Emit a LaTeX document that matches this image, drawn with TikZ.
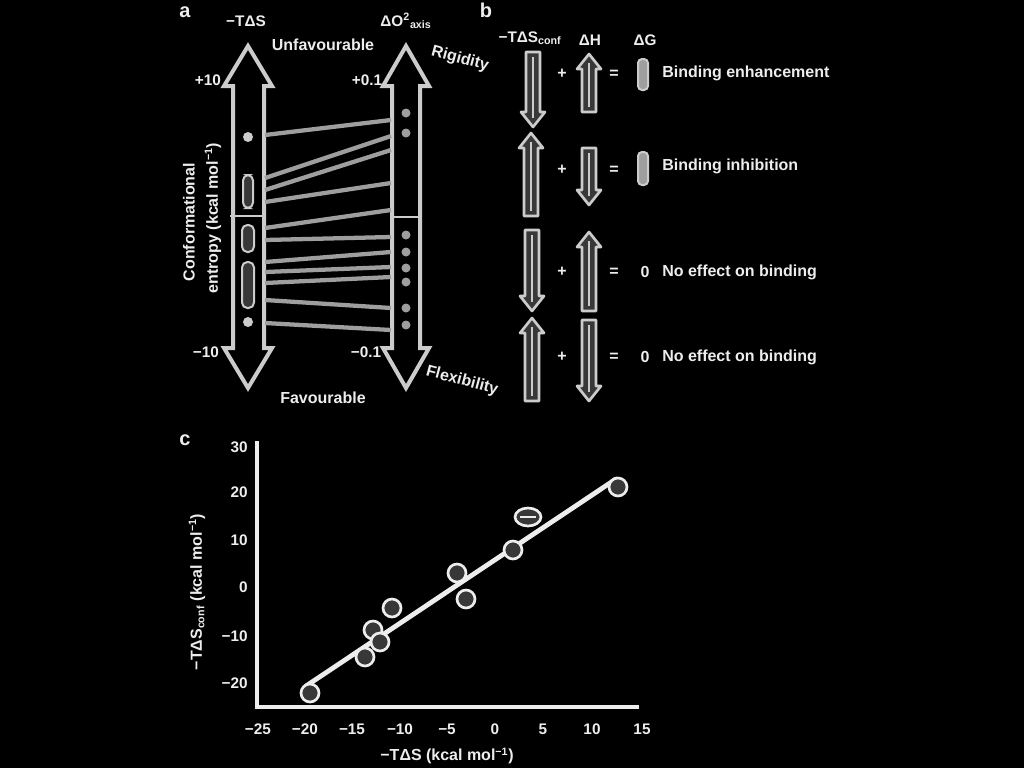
\documentclass[tikz,border=0pt]{standalone}
\usepackage{fontspec}
\setmainfont{Liberation Sans}
\definecolor{fg}{gray}{0.93}
\definecolor{lk}{gray}{0.62}
\definecolor{ol}{gray}{0.80}
\definecolor{inn}{gray}{0.22}
\newcommand\colarrow[3]{%
  \draw[colar] ({#1},{#2}) -- ({#1+12},{#2+15*sign(#3-#2)}) -- ({#1+7},{#2+15*sign(#3-#2)})
     -- ({#1+7},{#3}) -- ({#1-7},{#3}) -- ({#1-7},{#2+15*sign(#3-#2)})
     -- ({#1-12},{#2+15*sign(#3-#2)}) -- cycle;
  \draw[inline] ({#1},{#2+9*sign(#3-#2)}) -- ({#1},{#3-5*sign(#3-#2)});}
\begin{document}
\begin{tikzpicture}[x=0.75pt,y=-0.75pt,
  lab/.style={text=fg,inner sep=0pt,font=\bfseries\fontsize{12}{14}\selectfont},
  small/.style={text=fg,inner sep=0pt,font=\bfseries\fontsize{11.5}{13}\selectfont},
  panel/.style={text=fg,inner sep=0pt,font=\bfseries\fontsize{15}{17}\selectfont},
  bigar/.style={draw=ol,line width=3pt,fill=black,line join=miter},
  colar/.style={draw=ol,line width=2pt,fill=inn,line join=round},
  inline/.style={draw=ol,line width=0.8pt},
  link/.style={draw=lk,line width=3.2pt},
  markbox/.style={draw=ol,line width=1.5pt,fill=inn,rounded corners=4pt},
  dotm/.style={fill=lk},
  axis/.style={draw=fg,line width=3.6pt},
  pt/.style={draw=fg,line width=2pt,fill=inn},
  fitline/.style={draw=fg,line width=3.6pt,line cap=round}]
\fill[black] (0,0) rectangle (1024,768);
\useasboundingbox (0,0) rectangle (1024,768);

% ---------- panel labels
\node[panel] (pa) at (185,12) {a};
\node[panel] (pb) at (486,10) {b};
\node[panel] (pc) at (185,440) {c};

% ---------- panel a : double arrows
\draw[bigar] (248,46) -- (272,86) -- (264,86) -- (264,348) -- (272,348) -- (248,388)
  -- (224,348) -- (233,348) -- (233,86) -- (224,86) -- cycle;
\draw[bigar] (406,46) -- (429,86) -- (420,86) -- (420,348) -- (429,348) -- (406,388)
  -- (383,348) -- (392,348) -- (392,86) -- (383,86) -- cycle;

% connecting lines
\foreach \yl/\yr in {135/120,178/136,190/150,202/183,228/210,240/237,262/252,272/267,283/277,300/308,323/330}
  \draw[link] (265,\yl) -- (391,\yr);

% markers, left scale
\fill[ol] (248,137) circle (5);
\draw[markbox] (243,175) rectangle (253,208);
\draw[draw=ol,line width=2pt] (230,216) -- (266,216);
\draw[markbox] (242,225) rectangle (254,252);
\draw[markbox] (242,262) rectangle (254,308);
\fill[ol] (248,322) circle (5);
% markers, right scale
\foreach \yy in {113,133,235,252,268,282,308,325}
  \fill[dotm] (406,\yy) circle (4.5);
\draw[draw=ol,line width=2pt] (390,217) -- (422,217);

% labels panel a
\node[small] (ta) at (246,21) {−TΔS};
\node[small] (tb) at (406,21) {ΔO\textsuperscript{2}\textsubscript{axis}};
\node[lab] (unf) at (323,45) {Unfavourable};
\node[lab] (fav) at (323,398) {Favourable};
\node[lab,rotate=-15] (rig) at (460,59) {Rigidity};
\node[lab,rotate=-15] (flx) at (462,381) {Flexibility};
\node[small] (lp) at (208,80) {+10};
\node[small] (lm) at (206,352) {−10};
\node[small] (rp) at (367,80) {+0.1};
\node[small] (rm) at (366,352) {−0.1};
\node[lab,rotate=90] (rot1) at (189,222) {Conformational};
\node[lab,rotate=90] (rot2) at (213,218) {entropy (kcal mol\textsuperscript{−1})};

% ---------- panel b
\node[small] (h1) at (530,38) {−TΔS\textsubscript{conf}};
\node[small] (h2) at (590,40) {ΔH};
\node[small] (h3) at (645,40) {ΔG};

% row 1
\colarrow{533}{127}{52}
\colarrow{589}{54}{112}
\draw[markbox,rounded corners=3pt,fill=lk] (638,59) rectangle (648,90);
\node[lab] (p1) at (562,74) {+};
\node[lab] (e1) at (614,74) {=};
\node[lab,anchor=west] (t1) at (662,73) {Binding enhancement};
% row 2
\colarrow{531}{133}{216}
\colarrow{589}{205}{148}
\draw[markbox,rounded corners=3pt,fill=lk] (638,152) rectangle (648,185);
\node[lab] (p2) at (562,170) {+};
\node[lab] (e2) at (614,170) {=};
\node[lab,anchor=west] (t2) at (662,166) {Binding inhibition};
% row 3
\colarrow{532}{311}{230}
\colarrow{589}{232}{311}
\node[lab] (p3) at (562,272) {+};
\node[lab] (e3) at (614,272) {=};
\node[lab] (z3) at (645,272) {0};
\node[lab,anchor=west] (t3) at (662,272) {No effect on binding};
% row 4
\colarrow{532}{318}{401}
\colarrow{589}{401}{320}
\node[lab] (p4) at (562,357) {+};
\node[lab] (e4) at (614,357) {=};
\node[lab] (z4) at (645,357) {0};
\node[lab,anchor=west] (t4) at (662,357) {No effect on binding};

% ---------- panel c
\draw[axis] (257,441) -- (257,707) -- (639,707);
\foreach \v/\yy in {30/447,20/492,10/540,0/587,−10/636,−20/683}
  \node[small,anchor=east] at (248,\yy) {\v};
\foreach \v/\xx in {−25/258,−20/305,−15/352,−10/400,−5/447,0/495,5/543,10/592,15/642}
  \node[small] at (\xx,729) {\v};
\node[lab] (xt) at (447,756) {−TΔS (kcal mol\textsuperscript{−1})};
\node[lab,rotate=90] (yt) at (197,592) {−TΔS\textsubscript{conf} (kcal mol\textsuperscript{−1})};

\draw[fitline] (306,686) -- (616,479);
\foreach \px/\py in {310/693,365/657,373/630,380/642,392/608,457/573,466/599,513/550,618/487}
  \draw[pt] (\px,\py) circle (9);
\draw[pt] (528,517) ellipse (13 and 9);
\draw[draw=fg,line width=1.2pt] (520,517) -- (536,517);
\end{tikzpicture}
\end{document}
